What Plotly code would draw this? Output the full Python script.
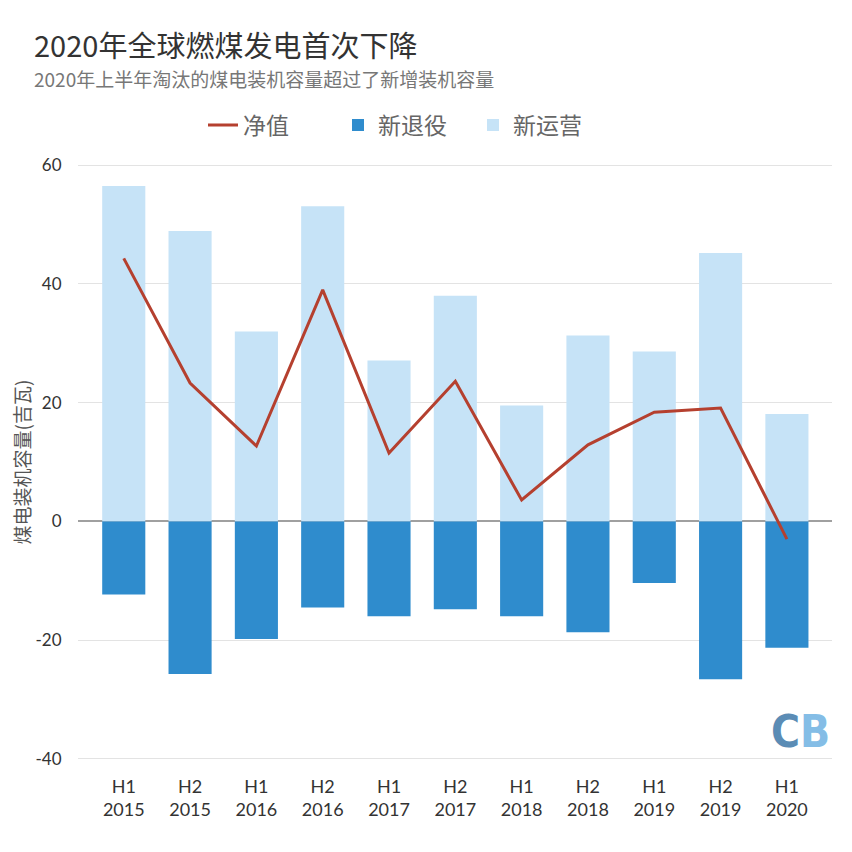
import plotly.graph_objects as go

categories = ["H1<br>2015", "H2<br>2015", "H1<br>2016", "H2<br>2016", "H1<br>2017", "H2<br>2017",
              "H1<br>2018", "H2<br>2018", "H1<br>2019", "H2<br>2019", "H1<br>2020"]
new_operating = [56.5, 48.9, 32.0, 53.1, 27.1, 38.0, 19.5, 31.3, 28.6, 45.2, 18.1]
new_retired = [-12.3, -25.7, -19.8, -14.5, -16.0, -14.8, -16.0, -18.7, -10.4, -26.6, -21.3]
net_value = [44.3, 23.3, 12.7, 39.0, 11.5, 23.6, 3.6, 12.9, 18.4, 19.1, -3.0]
y_ticks = [-40, -20, 0, 20, 40, 60]

cjk = "Noto Sans CJK SC"
num = "Lato, Open Sans, sans-serif"
x_idx = list(range(len(categories)))

fig = go.Figure()
fig.add_trace(go.Scatter(x=x_idx, y=net_value, mode="lines", name="净值",
                         line=dict(color="#b5402f", width=3)))
fig.add_trace(go.Bar(x=x_idx, y=new_retired, name="新退役", marker=dict(color="#2f8ccd", line_width=0)))
fig.add_trace(go.Bar(x=x_idx, y=new_operating, name="新运营", marker=dict(color="#c6e3f7", line_width=0)))

OFF = 8  # page body margin
FW = FH = 836
# screen-coordinate targets
PL, PR, PT, PB = 78, 832, 164, 760
L = PL - OFF
R = FW - (PR - OFF)
T = PT - OFF
B = FH - (PB - OFF)
W = PR - PL
H = PB - PT

def px_x(p):
    return (p - PL) / W

def px_y(p):
    return (PB - p) / H

fig.update_layout(
    width=FW, height=FH,
    margin=dict(l=L, r=R, t=T, b=B, pad=0, autoexpand=False),
    paper_bgcolor="white", plot_bgcolor="white",
    barmode="relative", bargap=0.35,
    showlegend=True,
    legend=dict(orientation="h", x=px_x(203), y=px_y(125), xanchor="left", yanchor="middle",
                font=dict(family=cjk, size=23, color="#666"), traceorder="normal",
                entrywidth=90, itemwidth=30),
    xaxis=dict(range=[-0.69, 10.68], tickmode="array", tickvals=x_idx, ticktext=categories,
               showgrid=False, zeroline=False, showline=False, automargin=False,
               ticks="outside", ticklen=10, tickcolor="rgba(0,0,0,0)",
               tickfont=dict(family="Lato, Open Sans", size=18, color="#333")),
    yaxis=dict(range=[-40.2, 60.2], tickmode="array", tickvals=y_ticks,
               ticktext=[str(v) for v in y_ticks], automargin=False,
               showgrid=True, gridcolor="#e3e3e3", gridwidth=1,
               zeroline=True, zerolinecolor="#a0a0a0", zerolinewidth=1.5,
               ticks="outside", ticklen=12, tickcolor="rgba(0,0,0,0)",
               tickfont=dict(family=num, size=17, color="#333"),
               title=dict(text="煤电装机容量(吉瓦)", font=dict(family=cjk, size=19, color="#555"), standoff=0)),
    annotations=[
        dict(text="2020年全球燃煤发电首次下降", xref="paper", yref="paper",
             x=px_x(32), y=px_y(44), xanchor="left", yanchor="middle", showarrow=False,
             font=dict(family=cjk, size=29, color="#333")),
        dict(text="2020年上半年淘汰的煤电装机容量超过了新增装机容量", xref="paper", yref="paper",
             x=px_x(32), y=px_y(78), xanchor="left", yanchor="middle", showarrow=False,
             font=dict(family=cjk, size=19, color="#777")),
        dict(text="<b><span style='color:#5b8cb5'>C</span><span style='color:#84bde6'>B</span></b>",
             xref="paper", yref="paper", x=px_x(832), y=px_y(731), xanchor="right", yanchor="middle",
             showarrow=False, font=dict(family="Liberation Sans Narrow, DejaVu Sans Condensed, sans-serif", size=44)),
    ],
)

fig.write_html("out.html")
